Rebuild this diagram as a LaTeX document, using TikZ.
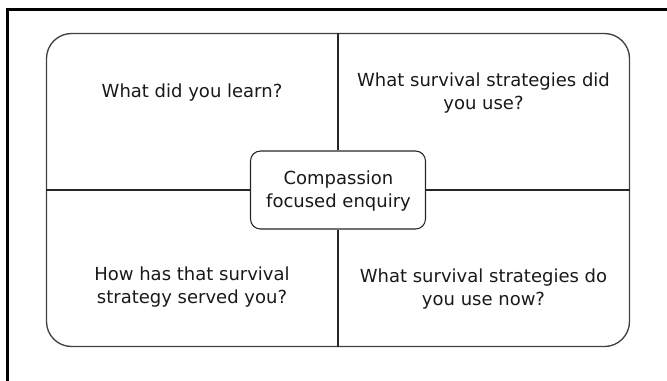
\documentclass[tikz,border=0pt]{standalone}
\usepackage{fontspec}
\setmainfont{DejaVu Sans}
\begin{document}
\begin{tikzpicture}[x=0.75pt, y=-0.75pt,
  quad/.style={align=center, anchor=base, text=black!90, inner sep=0pt,
    font=\fontsize{13.5pt}{17.25pt}\selectfont},
  crossline/.style={draw=black!85, line width=0.8pt},
  panel/.style={draw=black!75, line width=1pt, rounded corners=18.75pt,
    minimum width=437.25pt, minimum height=234.75pt, inner sep=0pt},
  hubbox/.style={draw=black!85, line width=0.8pt, rounded corners=7.5pt, fill=white,
    minimum width=131.25pt, minimum height=58.5pt, inner sep=0pt}]
  \useasboundingbox (0,0) rectangle (667,380);
  % page frame: top and left rules only
  \coordinate (tl) at (7.5,9.5);
  \coordinate (tr) at (667,9.5);
  \coordinate (bl) at (7.5,380);
  \draw[line width=2.25pt, line cap=rect] (tr) -- (tl) -- (bl);

  % four-quadrant panel, both boxes share one centre so the cross stays straight
  \node[panel] (frame) at (338,190) {};
  \node[hubbox] (hub) at (338,190) {};
  \draw[crossline] (frame.north) -- (hub.north);
  \draw[crossline] (hub.south) -- (frame.south);
  \draw[crossline] (frame.west) -- (hub.west);
  \draw[crossline] (hub.east) -- (frame.east);

  % labels (base anchor sits on the last line's baseline)
  \node[quad] (hubtext) at (338.5,207) {Compassion\\focused enquiry};
  \node[quad] (q1) at (192,97) {What did you learn?};
  \node[quad] (q2) at (483.5,109) {What survival strategies did\\you use?};
  \node[quad] (q3) at (192,303) {How has that survival\\strategy served you?};
  \node[quad] (q4) at (483.5,305) {What survival strategies do\\you use now?};
\end{tikzpicture}
\end{document}
